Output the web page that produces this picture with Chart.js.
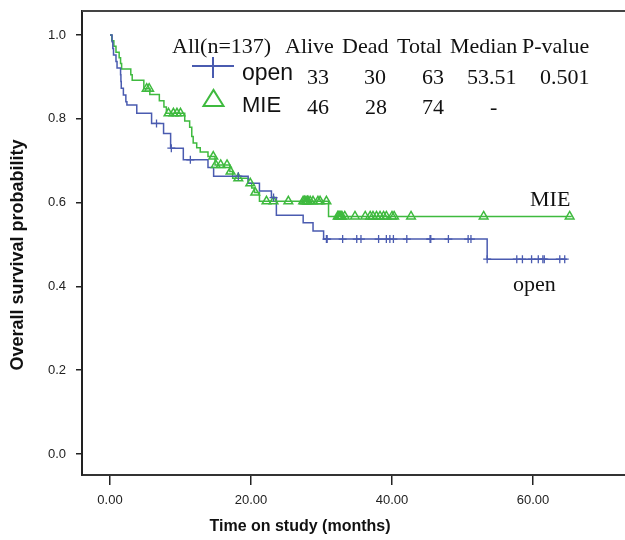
<!DOCTYPE html>
<html>
<head>
<meta charset="utf-8">
<script src="https://cdn.jsdelivr.net/npm/chart.js@4.4.1/dist/chart.umd.min.js"></script>
<style>
  html, body { margin: 0; padding: 0; background: #fff; }
  #chart { display: block; }
</style>
</head>
<body>
<canvas id="chart" width="625" height="540"></canvas>
<script>
// Kaplan-Meier steps (months, survival after the drop)
const openTimes = [0, 0.3, 0.4, 0.5, 0.85, 1.0, 1.5, 1.55, 1.6, 1.9, 2.25, 2.4, 3.8, 5.9, 7.6, 8.6, 10.4, 13.9, 14.7, 19.6, 21.2, 22.9, 23.6, 27.4, 28.8, 30.3, 53.5, 64.8];
const openSurv = [1.0, 0.984, 0.968, 0.952, 0.937, 0.921, 0.905, 0.889, 0.873, 0.857, 0.841, 0.833, 0.813, 0.789, 0.765, 0.730, 0.702, 0.684, 0.663, 0.646, 0.628, 0.612, 0.570, 0.552, 0.532, 0.513, 0.465, 0.465];
const openCensored = [6.6, 8.7, 11.4, 18.2, 23.2, 30.7, 30.8, 33.0, 35.0, 35.6, 38.1, 39.2, 39.7, 40.2, 42.1, 45.4, 45.5, 48.0, 50.8, 51.2, 53.5, 57.7, 58.5, 59.8, 60.75, 61.4, 61.6, 63.8, 64.5];

const mieTimes = [0, 0.25, 0.55, 0.85, 1.3, 1.5, 1.65, 2.95, 3.15, 4.8, 5.65, 7.0, 7.65, 8.0, 10.6, 11.3, 11.6, 11.8, 12.3, 12.8, 13.9, 14.9, 17.0, 17.4, 19.6, 20.1, 20.5, 21.2, 31.0, 65.5];
const mieSurv = [1.0, 0.986, 0.973, 0.959, 0.946, 0.932, 0.919, 0.905, 0.892, 0.872, 0.858, 0.843, 0.828, 0.813, 0.795, 0.780, 0.758, 0.742, 0.731, 0.721, 0.710, 0.690, 0.674, 0.658, 0.646, 0.635, 0.624, 0.603, 0.567, 0.567];
const mieCensored = [5.2, 5.55, 8.3, 9.0, 9.5, 10.0, 14.65, 15.0, 15.7, 16.6, 17.1, 18.2, 19.9, 20.6, 22.2, 23.2, 25.3, 27.4, 27.6, 27.8, 28.0, 28.1, 28.4, 28.8, 29.5, 29.8, 30.7, 32.3, 32.45, 32.6, 32.75, 32.9, 33.3, 34.75, 36.2, 36.9, 37.3, 37.8, 38.3, 38.8, 39.2, 40.0, 40.3, 42.7, 53.0, 65.2];

const xTicks = [0, 20, 40, 60];
const yTicks = [0, 0.2, 0.4, 0.6, 0.8, 1.0];

// summary table in the top right corner
const tableHeader = ["All(n=137)", "Alive", "Dead", "Total", "Median", "P-value"];
const openRow = ["33", "30", "63", "53.51", "0.501"];
const mieRow = ["46", "28", "74", "-"];

const BLUE = "#4a5bb0";
const GREEN = "#3fba3f";
const SANS = "'Liberation Sans', Arial, sans-serif";
const SERIF = "'Liberation Serif', 'Times New Roman', serif";

function survivalAt(times, surv, t) {
  let s = surv[0];
  for (let i = 0; i < times.length; i++) {
    if (times[i] <= t) s = surv[i];
  }
  return s;
}

function toPoints(times, surv) {
  return times.map((t, i) => ({ x: t, y: surv[i] }));
}

function censorPoints(list, times, surv) {
  return list.map(t => ({ x: t, y: survivalAt(times, surv, t) }));
}

const decorations = {
  id: "decorations",
  afterDraw(chart) {
    const ctx = chart.ctx;
    const area = chart.chartArea;
    ctx.save();

    // top frame line
    ctx.strokeStyle = "#444";
    ctx.lineWidth = 2;
    ctx.beginPath();
    ctx.moveTo(area.left, area.top);
    ctx.lineTo(chart.width, area.top);
    ctx.stroke();

    // axis titles
    ctx.fillStyle = "#111";
    ctx.textAlign = "center";
    ctx.textBaseline = "middle";
    ctx.font = "bold 16px " + SANS;
    ctx.fillText("Time on study (months)", 300, 527);
    ctx.save();
    ctx.translate(18, 255);
    ctx.rotate(-Math.PI / 2);
    ctx.font = "bold 18px " + SANS;
    ctx.fillText("Overall survival probability", 0, 0);
    ctx.restore();

    // table
    ctx.textAlign = "left";
    ctx.textBaseline = "alphabetic";
    ctx.font = "22px " + SERIF;
    const headX = [172, 285, 342, 397, 450, 522];
    tableHeader.forEach((s, i) => ctx.fillText(s, headX[i], 53));
    const colX = [307, 364, 422, 467, 540];
    openRow.forEach((s, i) => ctx.fillText(s, colX[i], 84));
    const mieX = [307, 365, 422, 490];
    mieRow.forEach((s, i) => ctx.fillText(s, mieX[i], 114));

    ctx.font = "23px " + SANS;
    ctx.fillText("open", 242, 80);
    ctx.font = "22px " + SANS;
    ctx.fillText("MIE", 242, 112);

    // legend glyphs
    ctx.lineWidth = 2;
    ctx.strokeStyle = BLUE;
    ctx.beginPath();
    ctx.moveTo(192, 66);
    ctx.lineTo(234, 66);
    ctx.moveTo(213, 57);
    ctx.lineTo(213, 78);
    ctx.stroke();
    ctx.strokeStyle = GREEN;
    ctx.beginPath();
    ctx.moveTo(203.5, 106);
    ctx.lineTo(223.5, 106);
    ctx.lineTo(213.5, 90);
    ctx.closePath();
    ctx.stroke();

    // curve labels
    ctx.font = "22px " + SERIF;
    ctx.fillText("MIE", 530, 206);
    ctx.fillText("open", 513, 291);

    ctx.restore();
  }
};

new Chart(document.getElementById("chart"), {
  type: "line",
  data: {
    datasets: [
      {
        label: "open censored",
        data: censorPoints(openCensored, openTimes, openSurv),
        showLine: false,
        pointStyle: "cross",
        pointRadius: 4,
        borderColor: BLUE,
        borderWidth: 1.3
      },
      {
        label: "MIE censored",
        data: censorPoints(mieCensored, mieTimes, mieSurv),
        showLine: false,
        pointStyle: "triangle",
        pointRadius: 5,
        borderColor: GREEN,
        backgroundColor: "rgba(255,255,255,0)",
        borderWidth: 1.5
      },
      {
        label: "open",
        data: toPoints(openTimes, openSurv),
        stepped: true,
        borderColor: BLUE,
        borderWidth: 1.5,
        pointRadius: 0,
        fill: false
      },
      {
        label: "MIE",
        data: toPoints(mieTimes, mieSurv),
        stepped: true,
        borderColor: GREEN,
        borderWidth: 1.5,
        pointRadius: 0,
        fill: false
      }
    ]
  },
  options: {
    responsive: false,
    animation: false,
    layout: { autoPadding: false, padding: { top: 11, right: 0, left: 0, bottom: 0 } },
    plugins: {
      legend: { display: false },
      tooltip: { enabled: false },
      title: { display: false }
    },
    scales: {
      x: {
        type: "linear",
        min: -3.97,
        max: 73.05,
        afterBuildTicks: s => { s.ticks = xTicks.map(v => ({ value: v })); },
        afterFit: s => { s.height = 65; s.paddingLeft = 0; s.paddingRight = 0; },
        ticks: {
          callback: v => Number(v).toFixed(2),
          font: { family: SANS, size: 13 },
          color: "#222",
          padding: 8,
          maxRotation: 0,
          autoSkip: false
        },
        grid: { drawOnChartArea: false, drawTicks: true, tickLength: 10, color: "#222", lineWidth: 1.5 },
        border: { display: true, color: "#333", width: 2 }
      },
      y: {
        type: "linear",
        min: -0.0501,
        max: 1.0573,
        afterBuildTicks: s => { s.ticks = yTicks.map(v => ({ value: v })); },
        afterFit: s => { s.width = 82; s.paddingTop = 0; s.paddingBottom = 0; },
        ticks: {
          callback: v => Number(v).toFixed(1),
          font: { family: SANS, size: 13 },
          color: "#222",
          padding: 10,
          autoSkip: false
        },
        grid: { drawOnChartArea: false, drawTicks: true, tickLength: 6, color: "#222", lineWidth: 1.5 },
        border: { display: true, color: "#222", width: 2 }
      }
    }
  },
  plugins: [decorations]
});
</script>
</body>
</html>
